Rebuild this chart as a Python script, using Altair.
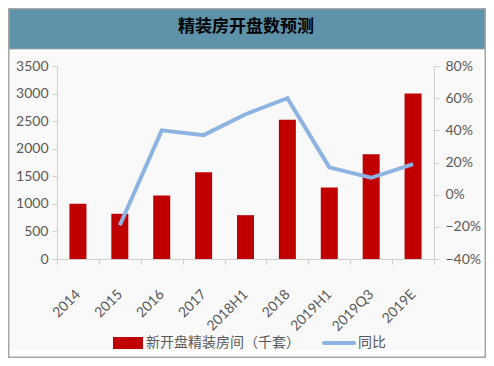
import altair as alt
import pandas as pd

# ---- data ----
categories = ["2014", "2015", "2016", "2017", "2018H1", "2018", "2019H1", "2019Q3", "2019E"]
units = [1000, 820, 1150, 1575, 795, 2525, 1295, 1900, 3000]          # 新开盘精装房间（千套）
yoy = [None, -0.19, 0.40, 0.37, 0.50, 0.60, 0.17, 0.105, 0.19]        # 同比
left_ticks = [0, 500, 1000, 1500, 2000, 2500, 3000, 3500]
right_ticks = [-0.4, -0.2, 0.0, 0.2, 0.4, 0.6, 0.8]

title_text = "精装房开盘数预测"
bar_name = "新开盘精装房间（千套）"
line_name = "同比"

BAR_COLOR = "#C00000"
LINE_COLOR = "#8DB3E2"
LABEL_COLOR = "#595959"
AXIS_COLOR = "#D0D0D0"
FONT = "Lato"
CJK = "Noto Sans CJK SC"

df = pd.DataFrame({"cat": categories, "units": units, "yoy": yoy})
one = pd.DataFrame({"k": [0]})

# plot area: width 377, height 193; padding left 49, top 58
W, H = 377, 193
PL, PT = 49, 58
TOTAL_W, TOTAL_H = 478, 350

x_enc = alt.X(
    "cat:N",
    sort=categories,
    scale=alt.Scale(paddingInner=0, paddingOuter=0),
    axis=alt.Axis(
        title=None,
        labelAngle=315,
        labelAlign="right",
        labelBaseline="middle",
        labelPadding=28,
        tickBand="extent",
        tickSize=5,
        tickColor=AXIS_COLOR,
        domainColor=AXIS_COLOR,
        labelColor=LABEL_COLOR,
        labelFont=FONT,
        labelFontSize=14,
        grid=False,
        zindex=2,
    ),
)

bars = alt.Chart(df).mark_bar(size=17, color=BAR_COLOR).encode(
    x=x_enc,
    y=alt.Y(
        "units:Q",
        scale=alt.Scale(domain=[0, 3500], nice=False),
        axis=alt.Axis(
            title=None,
            orient="left",
            values=left_ticks,
            format="d",
            tickSize=5,
            tickColor=AXIS_COLOR,
            domainColor=AXIS_COLOR,
            labelColor=LABEL_COLOR,
            labelFont=FONT,
            labelFontSize=14,
            labelPadding=4,
            grid=False,
            zindex=2,
        ),
    ),
)

line = alt.Chart(df).transform_filter("isValid(datum.yoy)").mark_line(
    color=LINE_COLOR, strokeWidth=4
).encode(
    x=alt.X("cat:N", sort=categories),
    y=alt.Y(
        "yoy:Q",
        scale=alt.Scale(domain=[-0.4, 0.8], nice=False),
        axis=alt.Axis(
            title=None,
            orient="right",
            values=right_ticks,
            format=".0%",
            tickSize=5,
            tickColor=AXIS_COLOR,
            domainColor=AXIS_COLOR,
            labelColor=LABEL_COLOR,
            labelFont=FONT,
            labelFontSize=14,
            labelPadding=6,
            grid=False,
            zindex=2,
        ),
    ),
)

# ---- decoration: background, title band, border, legend ----
bg = alt.Chart(one).mark_rect(color="#F9F9F9").encode(
    x=alt.value(-PL + 2), x2=alt.value(TOTAL_W - PL - 4),
    y=alt.value(-14), y2=alt.value(284),
)
band = alt.Chart(one).mark_rect(color="#5E92A8", stroke="#9AA7AE", strokeWidth=1).encode(
    x=alt.value(-PL), x2=alt.value(TOTAL_W - PL),
    y=alt.value(-PT), y2=alt.value(-17),
)
border = alt.Chart(one).mark_rect(fillOpacity=0, stroke="#A6A6A6", strokeWidth=1.5).encode(
    x=alt.value(-PL + 0.75), x2=alt.value(TOTAL_W - PL - 0.75),
    y=alt.value(-PT + 0.75), y2=alt.value(TOTAL_H - PT - 0.75),
)
title = alt.Chart(one).mark_text(
    text=title_text, font=CJK, fontSize=17, fontWeight="bold", color="#000000",
    align="center", baseline="middle",
).encode(x=alt.value(189), y=alt.value(-39))

leg_rect = alt.Chart(one).mark_rect(color=BAR_COLOR).encode(
    x=alt.value(56), x2=alt.value(86), y=alt.value(271), y2=alt.value(283),
)
leg_text1 = alt.Chart(one).mark_text(
    text=bar_name, font=CJK, fontSize=14, color=LABEL_COLOR, align="left", baseline="middle",
).encode(x=alt.value(89), y=alt.value(277))
leg_line = alt.Chart(one).mark_rule(color=LINE_COLOR, strokeWidth=4, strokeCap="round").encode(
    x=alt.value(267), x2=alt.value(297), y=alt.value(277),
)
leg_text2 = alt.Chart(one).mark_text(
    text=line_name, font=CJK, fontSize=14, color=LABEL_COLOR, align="left", baseline="middle",
).encode(x=alt.value(301), y=alt.value(277))

chart = alt.layer(
    bg, band, title, bars, line, leg_rect, leg_text1, leg_line, leg_text2, border
).resolve_scale(y="independent").properties(
    width=W, height=H,
    autosize=alt.AutoSizeParams(type="none"),
    padding={"left": PL, "top": PT, "right": TOTAL_W - PL - W, "bottom": TOTAL_H - PT - H},
    background="white",
).configure_view(stroke=None)

chart.save("out.html", embed_options={"renderer": "svg", "actions": False})
